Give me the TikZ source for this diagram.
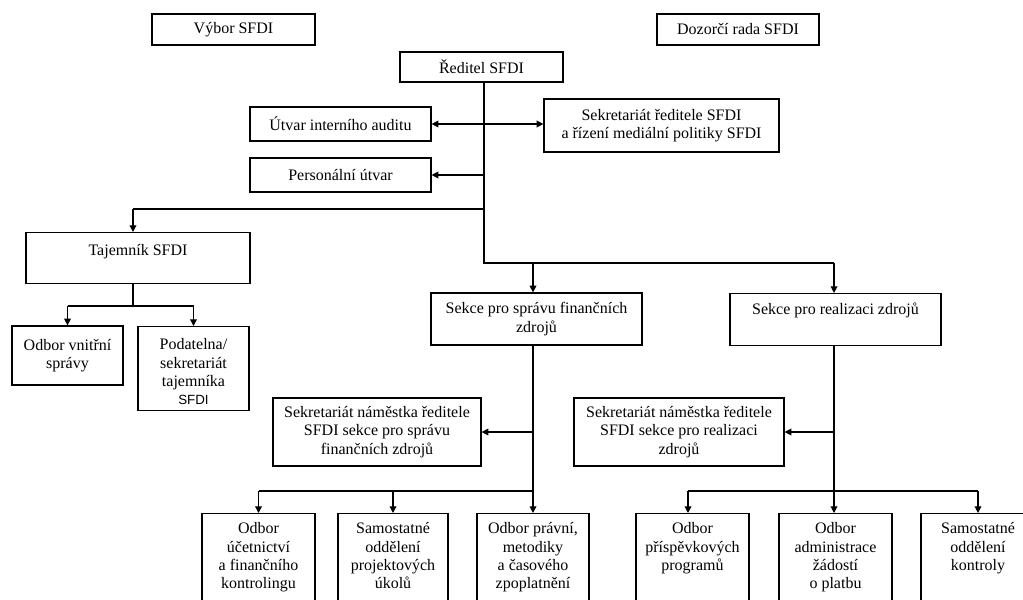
\documentclass[tikz,border=0pt]{standalone}
\usepackage{fontspec}
\setmainfont{Liberation Serif}
\newfontfamily\arialfont{Liberation Sans}
\usetikzlibrary{arrows.meta}
\newcommand\mytab[1]{\begin{tabular}[t]{@{}c@{}}#1\end{tabular}}
\begin{document}
\begin{tikzpicture}[x=0.75pt,y=-0.75pt,
  box/.style={draw, line width=0.9pt, inner sep=0pt, align=center, font=\fontsize{12}{13.8}\selectfont},
  topbox/.style={box, anchor=north},
  ln/.style={line width=0.9pt},
  arr/.style={ln, -{Triangle[length=5pt,width=5pt]}},
  barr/.style={ln, {Triangle[length=5pt,width=5pt]}-{Triangle[length=5pt,width=5pt]}}]
\useasboundingbox (0,0) rectangle (1023,599);
\clip (0,0) rectangle (1023,599);
% top row
\node[box, minimum width=122.25pt, minimum height=23.25pt] (vybor) at (233.5,29.5) {Výbor SFDI};
\node[box, minimum width=121.5pt, minimum height=23.25pt] (dozorci) at (738,29.5) {Dozorčí rada SFDI};
\node[box, minimum width=122.25pt, minimum height=22.5pt] (reditel) at (481.5,67) {Ředitel SFDI};
\node[box, minimum width=135.75pt, minimum height=25.5pt] (audit) at (340.5,124) {Útvar interního auditu};
\node[box, minimum width=135.75pt, minimum height=25.5pt] (personal) at (340.5,175) {Personální útvar};
\node[box, minimum width=176.25pt, minimum height=39.75pt] (sekred) at (661.5,125.5) {Sekretariát ředitele SFDI\\a řízení mediální politiky SFDI};
% left branch
\node[topbox, minimum width=168pt, text height=17.25pt, text depth=21pt] (tajemnik) at (138,232) {Tajemník SFDI};
\node[box, minimum width=83.25pt, minimum height=44.25pt] (vnitrni) at (67.5,355.5) {Odbor vnitřní\\správy};
\node[topbox, minimum width=83.25pt, text height=17.25pt, text depth=45.75pt] (podatelna) at (193.5,326) {\mytab{Podatelna/\\sekretariát\\tajemníka\\{\arialfont\fontsize{10}{13.8}\selectfont SFDI}}};
% sections
\node[box, minimum width=158.25pt, minimum height=39pt] (sekcefin) at (536.5,319) {Sekce pro správu finančních\\zdrojů};
\node[topbox, minimum width=158.25pt, text height=15.75pt, text depth=23.25pt] (sekcereal) at (835.5,293) {Sekce pro realizaci zdrojů};
\node[box, minimum width=156pt, minimum height=51pt] (sekL) at (377,432) {Sekretariát náměstka ředitele\\SFDI sekce pro správu\\finančních zdrojů};
\node[box, minimum width=157.5pt, minimum height=51pt] (sekR) at (679,432) {Sekretariát náměstka ředitele\\SFDI sekce pro realizaci\\zdrojů};
% bottom row
\tikzset{bot/.style={topbox, text height=15pt, text depth=80pt}}
\node[bot, minimum width=84.75pt] (b1) at (258.5,513) {\mytab{Odbor\\účetnictví\\a finančního\\kontrolingu}};
\node[bot, minimum width=82.5pt] (b2) at (393,513) {\mytab{Samostatné\\oddělení\\projektových\\úkolů}};
\node[bot, minimum width=84pt] (b3) at (533,513) {\mytab{Odbor právní,\\metodiky\\a časového\\zpoplatnění}};
\node[bot, minimum width=84.75pt] (b4) at (692.5,513) {\mytab{Odbor\\příspěvkových\\programů}};
\node[bot, minimum width=84.75pt] (b5) at (835.5,513) {\mytab{Odbor\\administrace\\žádostí\\o platbu}};
\node[bot, minimum width=85.5pt] (b6) at (978,513) {\mytab{Samostatné\\oddělení\\kontroly}};
% junction coordinates
\coordinate (tr) at (484,263);
\coordinate (tj) at (484,209);
\coordinate (tx) at (133,209);
\coordinate (ty) at (133,306);
\coordinate (fx) at (533,263);
\coordinate (rx) at (834,263);
\coordinate (hL) at (533,491);
\coordinate (hR) at (834,491);
\coordinate (a4) at (688,491);
% connectors from director
\draw[ln] (reditel.south -| tr) -- (tr) -- (rx);
\draw[arr] (rx) -- (rx |- sekcereal.north);
\draw[arr] (fx) -- (fx |- sekcefin.north);
\draw[barr] (audit.east) -- (audit.east -| sekred.west);
\draw[arr] (personal.east -| tr) -- (personal.east);
\draw[ln] (tj) -- (tx);
\draw[arr] (tx) -- (tx |- tajemnik.north);
% secretary branch
\draw[ln] (tajemnik.south -| ty) -- (ty);
\draw[ln] (ty -| vnitrni.north) -- (ty -| podatelna.north);
\draw[arr] (ty -| vnitrni.north) -- (vnitrni.north);
\draw[arr] (ty -| podatelna.north) -- (podatelna.north);
% finance section
\draw[arr] (sekcefin.south -| hL) -- (hL |- b3.north);
\draw[arr] (sekL.east -| hL) -- (sekL.east);
\draw[ln] (hL) -- (hL -| b1.north);
\draw[arr] (hL -| b1.north) -- (b1.north);
\draw[arr] (hL -| b2.north) -- (b2.north);
% realization section
\draw[arr] (sekcereal.south -| hR) -- (hR |- b5.north);
\draw[arr] (sekR.east -| hR) -- (sekR.east);
\draw[ln] (a4) -- (hR -| b6.north);
\draw[arr] (a4) -- (a4 |- b4.north);
\draw[arr] (hR -| b6.north) -- (b6.north);
\end{tikzpicture}
\end{document}
